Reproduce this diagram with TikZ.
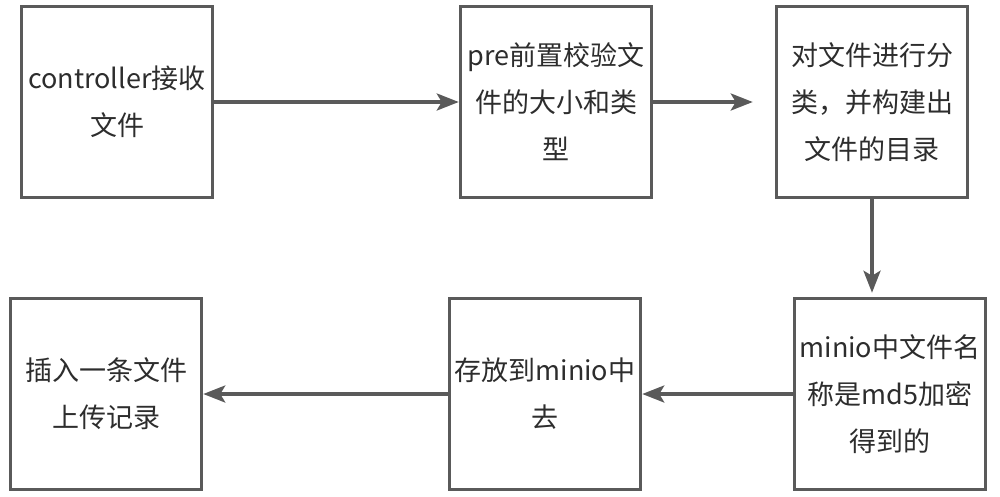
\documentclass[tikz,border=0pt]{standalone}
\usepackage{fontspec}
\setmainfont{Noto Sans CJK SC}
\usepackage{tikz}
\usetikzlibrary{arrows.meta, positioning}
\definecolor{flowgray}{RGB}{90,90,90}
\definecolor{textgray}{RGB}{45,45,45}

\begin{document}
\begin{tikzpicture}[x=1pt, y=-1pt,
    stepbox/.style={draw=flowgray, line width=3.5pt, fill=white,
                    minimum width=191pt, minimum height=191pt,
                    align=center, text=textgray,
                    font=\fontsize{27pt}{47pt}\selectfont},
    flow/.style={draw=flowgray, line width=3.5pt,
                 -{Stealth[length=22pt, width=17pt, inset=5pt]}}]
  \useasboundingbox (0,0) rectangle (1000,496);

  % top row, left to right
  \node[stepbox] (recv)     at (117,102) {controller接收\\文件};
  \node[stepbox] (check)    at (556,102) {pre前置校验文\\件的大小和类\\型};
  \node[stepbox] (classify) at (872,102) {对文件进行分\\类，并构建出\\文件的目录};

  % bottom row, right to left
  \node[stepbox] (md5)      at (890,394) {minio中文件名\\称是md5加密\\得到的};
  \node[stepbox] (store)    at (545,394) {存放到minio中\\去};
  \node[stepbox] (record)   at (106,394) {插入一条文件\\上传记录};

  % connectors
  \draw[flow] (recv) -- (check);
  \draw[flow, shorten >=22pt] (check) -- (classify);
  \draw[flow, shorten >=4pt] (classify) -- (md5.north -| classify);
  \draw[flow] (md5) -- (store);
  \draw[flow] (store) -- (record);
\end{tikzpicture}
\end{document}
